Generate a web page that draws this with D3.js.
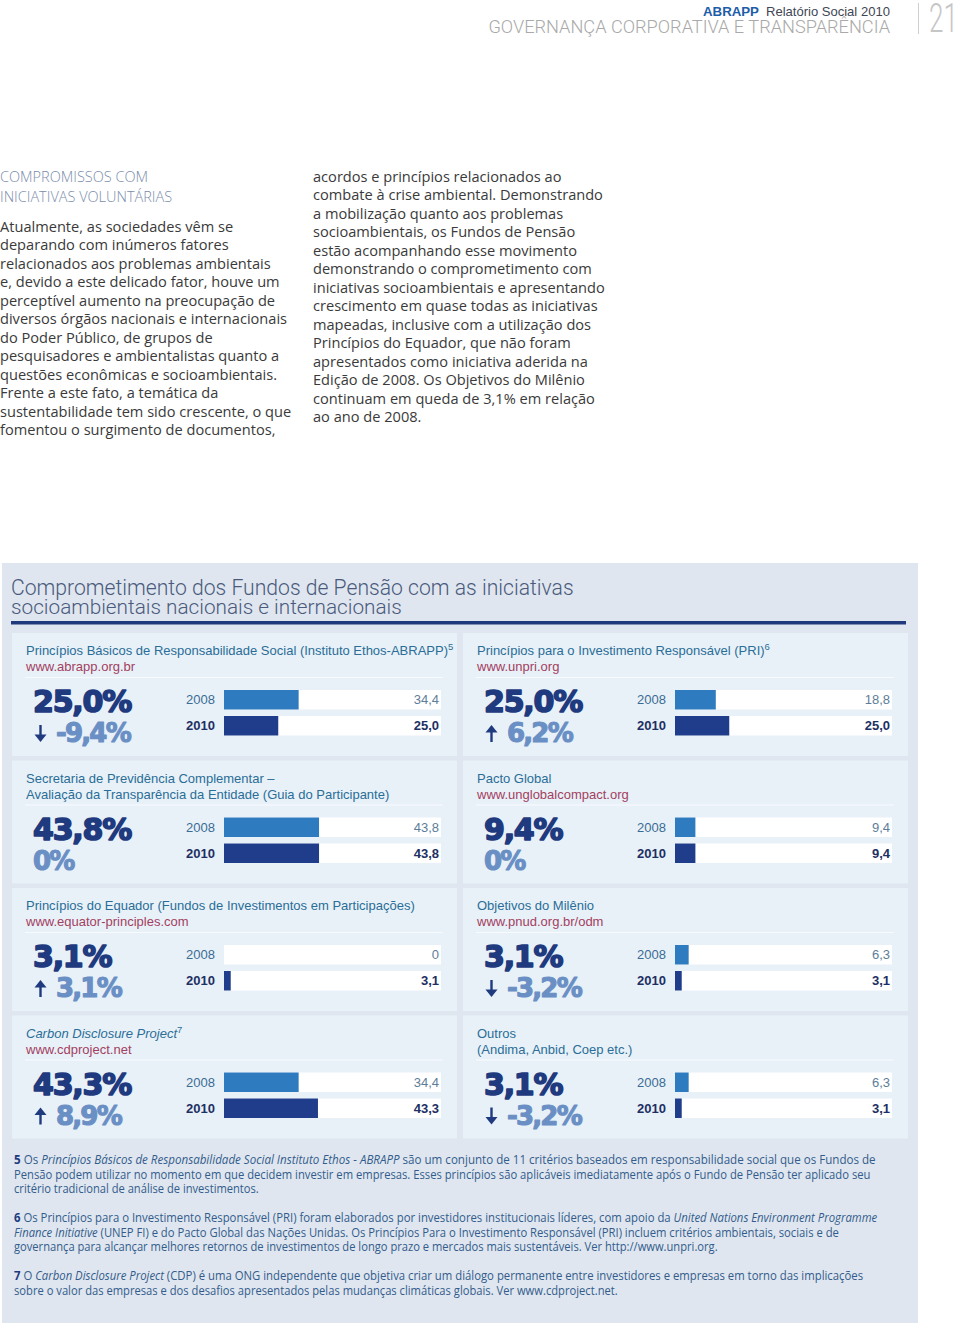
<!DOCTYPE html>
<html><head><meta charset="utf-8">
<script src="https://cdn.jsdelivr.net/npm/d3@7"></script>
<style>body{margin:0;background:#fff} svg{display:block}</style>
</head><body><svg id="c" width="960" height="1329"></svg>
<script>
// ---------- DATA ----------
const initiatives = [
  "Princípios Básicos de Responsabilidade Social (Instituto Ethos-ABRAPP)",
  "Princípios para o Investimento Responsável (PRI)",
  "Secretaria de Previdência Complementar –",
  "Pacto Global",
  "Princípios do Equador (Fundos de Investimentos em Participações)",
  "Objetivos do Milênio",
  "Carbon Disclosure Project",
  "Outros"
];
const noteMarks = ["5", "6", "", "", "", "", "7", ""];
const titleItalic = [false, false, false, false, false, false, true, false];
const subLines = [
  "www.abrapp.org.br",
  "www.unpri.org",
  "Avaliação da Transparência da Entidade (Guia do Participante)",
  "www.unglobalcompact.org",
  "www.equator-principles.com",
  "www.pnud.org.br/odm",
  "www.cdproject.net",
  "(Andima, Anbid, Coep etc.)"
];
const subIsUrl = [true, true, false, true, true, true, true, false];
const years = ["2008", "2010"];
const values2008 = [34.4, 18.8, 43.8, 9.4, 0, 6.3, 34.4, 6.3];
const values2010 = [25.0, 25.0, 43.8, 9.4, 3.1, 3.1, 43.3, 3.1];

const headerBrand = "ABRAPP";
const headerReport = "Relatório Social 2010";
const headerSection = "GOVERNANÇA CORPORATIVA E TRANSPARÊNCIA";
const pageNumber = "21";

const chartTitle = ["Comprometimento dos Fundos de Pensão com as iniciativas",
                    "socioambientais nacionais e internacionais"];

const sectionHeading = ["COMPROMISSOS COM", "INICIATIVAS VOLUNTÁRIAS"];
const bodyLeft = [
  "Atualmente, as sociedades vêm se",
  "deparando com inúmeros fatores",
  "relacionados aos problemas ambientais",
  "e, devido a este delicado fator, houve um",
  "perceptível aumento na preocupação de",
  "diversos órgãos nacionais e internacionais",
  "do Poder Público, de grupos de",
  "pesquisadores e ambientalistas quanto a",
  "questões econômicas e socioambientais.",
  "Frente a este fato, a temática da",
  "sustentabilidade tem sido crescente, o que",
  "fomentou o surgimento de documentos,"
];
const bodyRight = [
  "acordos e princípios relacionados ao",
  "combate à crise ambiental. Demonstrando",
  "a mobilização quanto aos problemas",
  "socioambientais, os Fundos de Pensão",
  "estão acompanhando esse movimento",
  "demonstrando o comprometimento com",
  "iniciativas socioambientais e apresentando",
  "crescimento em quase todas as iniciativas",
  "mapeadas, inclusive com a utilização dos",
  "Princípios do Equador, que não foram",
  "apresentados como iniciativa aderida na",
  "Edição de 2008. Os Objetivos do Milênio",
  "continuam em queda de 3,1% em relação",
  "ao ano de 2008."
];
// footnote lines: segments [text, style] style: n normal, b bold, i italic
const footLines = [
  [["5","b"],[" Os ","n"],["Princípios Básicos de Responsabilidade Social Instituto Ethos - ABRAPP","i"],[" são um conjunto de 11 critérios baseados em responsabilidade social que os Fundos de","n"]],
  [["Pensão podem utilizar no momento em que decidem investir em empresas. Esses princípios são aplicáveis imediatamente após o Fundo de Pensão ter aplicado seu","n"]],
  [["critério tradicional de análise de investimentos.","n"]],
  [["6","b"],[" Os Princípios para o Investimento Responsável (PRI) foram elaborados por investidores institucionais líderes, com apoio da ","n"],["United Nations Environment Programme","i"]],
  [["Finance Initiative","i"],[" (UNEP FI) e do Pacto Global das Nações Unidas. Os Princípios Para o Investimento Responsável (PRI) incluem critérios ambientais, sociais e de","n"]],
  [["governança para alcançar melhores retornos de investimentos de longo prazo e mercados mais sustentáveis. Ver http://www.unpri.org.","n"]],
  [["7","b"],[" O ","n"],["Carbon Disclosure Project","i"],[" (CDP) é uma ONG independente que objetiva criar um diálogo permanente entre investidores e empresas em torno das implicações","n"]],
  [["sobre o valor das empresas e dos desafios apresentados pelas mudanças climáticas globais. Ver www.cdproject.net.","n"]]
];
const footWidths = [862, 857, 245, 864, 826, 704, 850, 604];
const footBaselines = [1164, 1178.5, 1193, 1222, 1236.5, 1251, 1280, 1294.5];

// ---------- DRAW ----------
const svg = d3.select("#c");
svg.append("rect").attr("width", 960).attr("height", 1329).attr("fill", "#fff");

function fitSize(t, target) {
  const w = t.node().getComputedTextLength();
  const fs = parseFloat(t.attr("font-size"));
  t.attr("font-size", fs * target / w);
}

// header
const hb = svg.append("text").attr("x", 703).attr("y", 15.5).attr("font-family", "Liberation Sans, Arial, sans-serif")
  .attr("font-weight", "bold").attr("font-size", 14).attr("fill", "#1d5ca8").text(headerBrand);
fitSize(hb, 56);
const hr = svg.append("text").attr("x", 766).attr("y", 15.5).attr("font-family", "Liberation Sans, Arial, sans-serif")
  .attr("font-size", 14).attr("fill", "#3f4654").text(headerReport);
fitSize(hr, 124);
const hs = svg.append("text").attr("x", 890).attr("y", 32.5).attr("text-anchor", "end")
  .attr("font-family", "Roboto, sans-serif").attr("font-weight", 300).attr("font-size", 19.5)
  .attr("fill", "#a9a9a9").text(headerSection);
fitSize(hs, 402);
svg.append("line").attr("x1", 918.5).attr("x2", 918.5).attr("y1", 3).attr("y2", 34)
  .attr("stroke", "#cfcfcf").attr("stroke-width", 1);
svg.append("text").attr("x", 929).attr("y", 32).attr("font-family", "Roboto, sans-serif")
  .attr("font-weight", 300).attr("font-size", 40).attr("fill", "#c6c6c6")
  .attr("textLength", 29).attr("lengthAdjust", "spacingAndGlyphs").text(pageNumber);

// section heading and body
sectionHeading.forEach((s, i) => {
  svg.append("text").attr("x", 0).attr("y", 182 + i * 19.5)
    .attr("font-family", "Open Sans, sans-serif").attr("font-weight", 300).attr("font-size", 14.5)
    .attr("fill", "#7a8cab").text(s);
});
const probe = svg.append("text").attr("font-family", "Open Sans, sans-serif").attr("font-size", 14.5)
  .text("relacionados aos problemas ambientais");
const bodySize = 14.5 * 271 / probe.node().getComputedTextLength();
probe.remove();
function bodyCol(lines, x0, y0) {
  svg.append("g").selectAll("text").data(lines).join("text")
    .attr("x", x0).attr("y", (d, i) => y0 + i * 18.47)
    .attr("font-family", "Open Sans, sans-serif").attr("font-size", bodySize)
    .attr("fill", "#3a3a3a").text(d => d);
}
bodyCol(bodyLeft, 0, 232);
bodyCol(bodyRight, 313, 182);

// chart box
svg.append("rect").attr("x", 2).attr("y", 563).attr("width", 916).attr("height", 760).attr("fill", "#dfe6ef");
chartTitle.forEach((s, i) => {
  const t = svg.append("text").attr("x", 11).attr("y", 595 + i * 19)
    .attr("font-family", "Roboto, sans-serif").attr("font-weight", 300).attr("font-size", 21)
    .attr("fill", "#4a5a7c").text(s);
  fitSize(t, i === 0 ? 563 : 391);
});
svg.append("rect").attr("x", 11).attr("y", 621).attr("width", 895).attr("height", 3.5).attr("fill", "#20387c");

const panelX = i => (i % 2 === 0 ? 12 : 463);
const panelTop = i => 633 + Math.floor(i / 2) * 127.5;
const panelW = 445, panelH = 123;
const trackOff = 212, trackW = 217;
const x = d3.scaleLinear().domain([0, 100]).range([0, trackW]);
const y = d3.scaleBand().domain(years).range([57, 102.5]).paddingInner(0.25).paddingOuter(0);
const fmt = v => d3.format(".1f")(Math.abs(v)).replace(".", ",");
const fmtVal = v => (v === 0 ? "0" : fmt(v));

const panels = svg.append("g").selectAll("g").data(initiatives).join("g")
  .attr("transform", (d, i) => `translate(${panelX(i)},${panelTop(i)})`);

panels.append("rect").attr("width", panelW).attr("height", panelH).attr("fill", "#e8f1f8");
panels.append("line").attr("x1", 13).attr("x2", 431).attr("y1", 44.5).attr("y2", 44.5)
  .attr("stroke", "#f8fbfe").attr("stroke-width", 1.2);

panels.each(function (d, i) {
  const g = d3.select(this);
  const t = g.append("text").attr("x", 14).attr("y", 22)
    .attr("font-family", "Liberation Sans, Arial, sans-serif").attr("font-size", 13).attr("fill", "#2a6d97");
  t.append("tspan").attr("font-style", titleItalic[i] ? "italic" : "normal").text(d);
  if (noteMarks[i]) t.append("tspan").attr("font-size", 9.5).attr("dy", -5).text(noteMarks[i]);
  g.append("text").attr("x", 14).attr("y", 38)
    .attr("font-family", "Liberation Sans, Arial, sans-serif").attr("font-size", 13)
    .attr("fill", subIsUrl[i] ? "#a3405f" : "#2a6d97").text(subLines[i]);

  const v0 = values2008[i], v1 = values2010[i];
  const delta = Math.round((v1 - v0) * 10) / 10;
  g.append("text").attr("x", 21).attr("y", 79)
    .attr("font-family", "DejaVu Sans, sans-serif").attr("font-weight", "bold").attr("font-size", 30)
    .attr("letter-spacing", -1.2).attr("fill", "#1f3a7e").attr("stroke", "#1f3a7e").attr("stroke-width", 1.6)
    .attr("stroke-linejoin", "round").text(fmt(v1) + "%");
  const deltaTxt = delta === 0 ? "0%" : (delta < 0 ? "-" : "") + fmt(delta) + "%";
  g.append("text").attr("x", delta === 0 ? 21 : 44).attr("y", 109)
    .attr("font-family", "DejaVu Sans, sans-serif").attr("font-weight", "bold").attr("font-size", 26)
    .attr("letter-spacing", -1.8).attr("fill", "#6a8fc4").attr("stroke", "#6a8fc4").attr("stroke-width", 1.1)
    .attr("stroke-linejoin", "round").text(deltaTxt);
  if (delta !== 0) {
    const cx = 28.5, top = 92, bot = 109;
    const ag = g.append("g").attr("fill", "#1f3a7e").attr("stroke", "#1f3a7e");
    if (delta > 0) {
      ag.append("line").attr("x1", cx).attr("x2", cx).attr("y1", top + 5).attr("y2", bot).attr("stroke-width", 2.4);
      ag.append("path").attr("stroke", "none").attr("d", `M${cx - 6},${top + 7.5} L${cx},${top} L${cx + 6},${top + 7.5} Z`);
    } else {
      ag.append("line").attr("x1", cx).attr("x2", cx).attr("y1", top).attr("y2", bot - 5).attr("stroke-width", 2.4);
      ag.append("path").attr("stroke", "none").attr("d", `M${cx - 6},${bot - 7.5} L${cx},${bot} L${cx + 6},${bot - 7.5} Z`);
    }
  }

  const rows = years.map((yr, k) => ({ yr, v: k === 0 ? v0 : v1, k }));
  const rg = g.selectAll("g.row").data(rows).join("g").attr("class", "row")
    .attr("transform", r => `translate(0,${y(r.yr)})`);
  rg.append("rect").attr("x", trackOff).attr("width", trackW).attr("height", y.bandwidth()).attr("fill", "#ffffff");
  rg.append("rect").attr("x", trackOff).attr("width", r => x(r.v)).attr("height", y.bandwidth())
    .attr("fill", r => r.k === 0 ? "#2e7cbf" : "#1f3d8a");
  rg.append("text").attr("x", trackOff - 38).attr("y", y.bandwidth() / 2 + 4.5)
    .attr("font-family", "Liberation Sans, Arial, sans-serif").attr("font-size", 13)
    .attr("font-weight", r => r.k === 0 ? "normal" : "bold")
    .attr("fill", r => r.k === 0 ? "#3b6c95" : "#1d2f63").text(r => r.yr);
  rg.append("text").attr("x", trackOff + trackW - 2).attr("y", y.bandwidth() / 2 + 4.5).attr("text-anchor", "end")
    .attr("font-family", "Liberation Sans, Arial, sans-serif").attr("font-size", 13)
    .attr("font-weight", r => r.k === 0 ? "normal" : "bold")
    .attr("fill", r => r.k === 0 ? "#5d7d99" : "#1d2f63").text(r => fmtVal(r.v));
});

// footnotes
footLines.forEach((segs, i) => {
  const t = svg.append("text").attr("x", 0).attr("y", 0)
    .attr("font-family", "Open Sans, sans-serif").attr("font-size", 12.5).attr("fill", "#335c8c");
  segs.forEach(([s, st]) => {
    t.append("tspan").attr("font-weight", st === "b" ? "bold" : "normal")
      .attr("font-style", st === "i" ? "italic" : "normal")
      .attr("fill", st === "b" ? "#1f3a7e" : null).text(s);
  });
  const w = t.node().getComputedTextLength();
  t.attr("transform", `translate(14,${footBaselines[i]}) scale(${footWidths[i] / w},1)`);
});
</script></body></html>
